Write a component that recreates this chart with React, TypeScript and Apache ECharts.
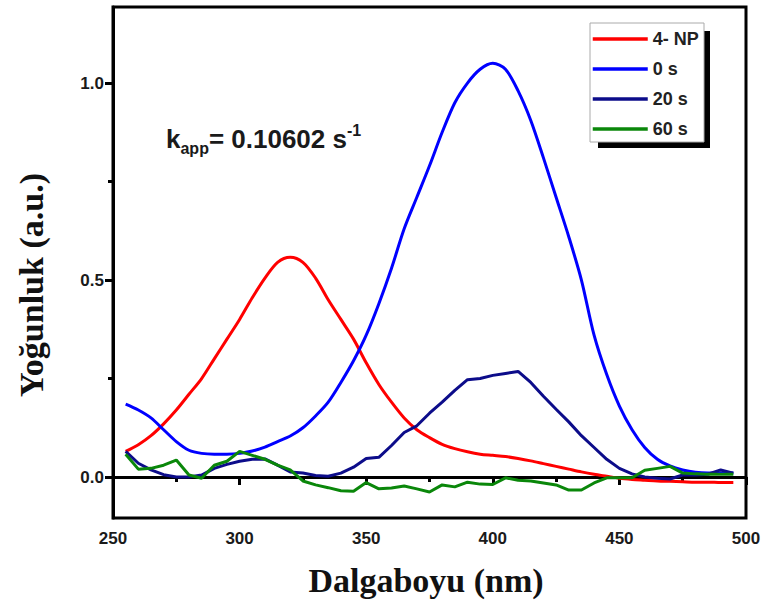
import React, { useEffect, useRef } from 'react';
import * as echarts from 'echarts';

// Wavelength grid (nm)
const wavelengths = [
  255, 260, 265, 270, 275, 280, 285, 290, 295, 300,
  305, 310, 315, 320, 325, 330, 335, 340, 345, 350,
  355, 360, 365, 370, 375, 380, 385, 390, 395, 400,
  405, 410, 415, 420, 425, 430, 435, 440, 445, 450,
  455, 460, 465, 470, 475, 480, 485, 490, 495,
];

const seriesNames = ['4- NP', '0 s', '20 s', '60 s'];
const seriesColors = ['#ff0000', '#0000ff', '#0c0c8a', '#0a870a'];

// 4-nitrophenol
const np4 = [
  0.065, 0.082, 0.105, 0.135, 0.17, 0.21, 0.25, 0.3, 0.35, 0.4,
  0.455, 0.505, 0.545, 0.558, 0.545, 0.505, 0.45, 0.4, 0.35, 0.29,
  0.235, 0.19, 0.15, 0.12, 0.1, 0.083, 0.072, 0.064, 0.058, 0.055,
  0.052, 0.047, 0.041, 0.034, 0.027, 0.02, 0.013, 0.007, 0.002, -0.003,
  -0.006, -0.008, -0.01, -0.011, -0.012, -0.013, -0.013, -0.014, -0.014,
];

// 0 s
const t0 = [
  0.185, 0.17, 0.15, 0.12, 0.09, 0.068, 0.06, 0.058, 0.058, 0.06,
  0.066, 0.076, 0.09, 0.104, 0.125, 0.155, 0.19, 0.24, 0.295, 0.36,
  0.44, 0.53, 0.63, 0.71, 0.79, 0.875, 0.95, 1.0, 1.035, 1.05,
  1.035, 0.98, 0.905, 0.81, 0.71, 0.61, 0.5, 0.36, 0.26, 0.18,
  0.12, 0.075, 0.045, 0.028, 0.018, 0.012, 0.01, 0.01, 0.01,
];

// 20 s
const t20 = [
  0.065, 0.035, 0.018, 0.006, 0.0, 0.0, 0.005, 0.022, 0.032, 0.04,
  0.045, 0.046, 0.03, 0.013, 0.01, 0.004, 0.002, 0.01, 0.025, 0.047,
  0.05, 0.08, 0.113, 0.13, 0.162, 0.19, 0.22, 0.247, 0.25, 0.258,
  0.263, 0.268, 0.24, 0.205, 0.172, 0.14, 0.105, 0.075, 0.045, 0.022,
  0.008, 0.0, -0.003, -0.005, 0.005, 0.005, 0.007, 0.018, 0.01,
];

// 60 s
const t60 = [
  0.058, 0.02, 0.022, 0.03, 0.043, 0.005, -0.003, 0.03, 0.04, 0.065,
  0.055, 0.045, 0.03, 0.018, -0.01, -0.02, -0.027, -0.035, -0.036, -0.014,
  -0.03, -0.028, -0.023, -0.03, -0.038, -0.02, -0.025, -0.013, -0.018, -0.019,
  -0.002, -0.008, -0.01, -0.015, -0.02, -0.033, -0.033, -0.015, -0.002, -0.002,
  -0.002, 0.017, 0.022, 0.027, 0.01, 0.008, 0.007, 0.007, 0.007,
];

const seriesValues = [np4, t0, t20, t60];
const seriesSmooth = [true, true, false, false];

const yMajorTicks = [0, 0.5, 1.0];
const yMinorTicks = [0.25, 0.75];

const sansFamily = '"Liberation Sans", Arial, sans-serif';
const serifFamily = '"Liberation Serif", "Times New Roman", serif';

export default function App() {
  const ref = useRef<HTMLDivElement>(null);

  useEffect(() => {
    const chart = echarts.init(ref.current!, null, { renderer: 'svg' });

    const series = seriesNames.map((name, k) => ({
      name,
      type: 'line',
      data: wavelengths.map((w, i) => [w, seriesValues[k][i]]),
      symbol: 'none',
      smooth: seriesSmooth[k] ? 0.3 : false,
      lineStyle: { color: seriesColors[k], width: 3 },
      itemStyle: { color: seriesColors[k] },
      z: 2 + k,
    }));

    const option = {
      animation: false,
      backgroundColor: '#ffffff',
      grid: {
        left: 113,
        right: 25,
        top: 7,
        bottom: 90,
        show: true,
        borderColor: '#000',
        borderWidth: 3,
        backgroundColor: 'transparent',
      },
      xAxis: {
        type: 'value',
        min: 250,
        max: 500,
        interval: 50,
        axisLine: { show: true, lineStyle: { color: '#000', width: 3 } },
        axisTick: { show: true, inside: false, length: 8, lineStyle: { color: '#000', width: 3 } },
        minorTick: { show: true, splitNumber: 2, length: 5, lineStyle: { color: '#000', width: 3 } },
        splitLine: { show: false },
        axisLabel: {
          margin: 12,
          color: '#1a1a1a',
          fontSize: 17,
          fontWeight: 'bold',
          fontFamily: sansFamily,
        },
      },
      yAxis: [
        {
          type: 'value',
          min: -0.104,
          max: 1.193,
          position: 'left',
          axisLine: { show: true, lineStyle: { color: '#000', width: 3 } },
          axisTick: {
            show: true,
            inside: false,
            length: 8,
            customValues: yMajorTicks,
            lineStyle: { color: '#000', width: 3 },
          },
          splitLine: { show: false },
          axisLabel: {
            customValues: yMajorTicks,
            formatter: (v: number) => v.toFixed(1),
            margin: 9,
            color: '#1a1a1a',
            fontSize: 17,
            fontWeight: 'bold',
            fontFamily: sansFamily,
          },
        },
        {
          type: 'value',
          min: -0.104,
          max: 1.193,
          position: 'left',
          axisLine: { show: false },
          axisTick: {
            show: true,
            inside: false,
            length: 5,
            customValues: yMinorTicks,
            lineStyle: { color: '#000', width: 3 },
          },
          axisLabel: { show: false },
          splitLine: { show: false },
        },
      ],
      legend: {
        orient: 'vertical',
        left: 591,
        top: 30,
        padding: 0,
        itemWidth: 55,
        itemHeight: 14,
        itemGap: 12,
        selectedMode: false,
        data: seriesNames,
        itemStyle: { color: 'transparent', borderColor: 'transparent', borderWidth: 0, opacity: 0 },
        lineStyle: { width: 3.5 },
        textStyle: {
          color: '#222',
          fontSize: 18,
          fontWeight: 'bold',
          fontFamily: sansFamily,
        },
        z: 10,
      },
      graphic: [
        // legend box with a hard drop shadow
        {
          type: 'rect',
          z: 8,
          silent: true,
          shape: { x: 598, y: 31, width: 112, height: 117 },
          style: { fill: '#000' },
        },
        {
          type: 'rect',
          z: 9,
          silent: true,
          shape: { x: 590, y: 23, width: 114, height: 119 },
          style: { fill: '#fff', stroke: '#aaa', lineWidth: 1 },
        },
        // rate constant annotation
        {
          type: 'text',
          z: 10,
          x: 166,
          y: 122,
          style: {
            text: '{a|k}{b|app}{a|= 0.10602 s}{c|-1}',
            textVerticalAlign: 'top',
            rich: {
              a: { fontSize: 26, fontWeight: 'bold', fontFamily: sansFamily, fill: '#1a1a1a', lineHeight: 34 },
              b: { fontSize: 16, fontWeight: 'bold', fontFamily: sansFamily, fill: '#1a1a1a', lineHeight: 18, verticalAlign: 'bottom' },
              c: { fontSize: 16, fontWeight: 'bold', fontFamily: sansFamily, fill: '#1a1a1a', lineHeight: 18, verticalAlign: 'top' },
            },
          },
        },
        // axis titles
        {
          type: 'text',
          x: 426,
          y: 580,
          style: {
            text: 'Dalgaboyu (nm)',
            fontSize: 34,
            fontWeight: 'bold',
            fontFamily: serifFamily,
            fill: '#111',
            textAlign: 'center',
            textVerticalAlign: 'middle',
          },
        },
        {
          type: 'text',
          x: 31,
          y: 285,
          rotation: Math.PI / 2,
          style: {
            text: 'Yoğunluk (a.u.)',
            fontSize: 34,
            fontWeight: 'bold',
            fontFamily: serifFamily,
            fill: '#111',
            textAlign: 'center',
            textVerticalAlign: 'middle',
          },
        },
      ],
      series,
    };

    chart.setOption(option as any);
    return () => chart.dispose();
  }, []);

  return (
    <div
      ref={ref}
      style={{ position: 'fixed', left: 0, top: 0, width: 771, height: 608 }}
    />
  );
}
